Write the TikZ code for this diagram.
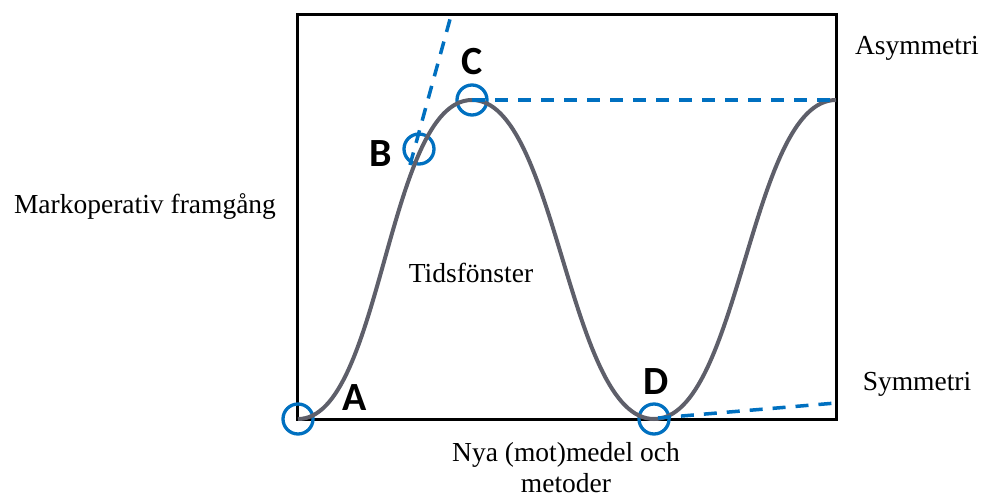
\documentclass[tikz,border=0pt]{standalone}
\usepackage{fontspec}
\setmainfont{Liberation Serif}
\newfontfamily\letterfont{Carlito}
\definecolor{ringblue}{RGB}{0,112,192}
\definecolor{wavegray}{RGB}{94,95,106}
\tikzset{
  ring/.style={circle, draw=ringblue, line width=3.3pt, minimum size=30pt, inner sep=0pt},
  bigletter/.style={font=\letterfont\bfseries\fontsize{40}{41}\selectfont, inner sep=0pt},
  caption/.style={font=\fontsize{27.5}{31}\selectfont, align=center, inner sep=0pt},
  guide/.style={ringblue, line width=3.5pt, dash pattern=on 13pt off 10pt}
}
\begin{document}
\begin{tikzpicture}[x=1pt, y=-1pt]
\useasboundingbox (0,0) rectangle (982,498);
\draw[line width=3pt] (297,14) rectangle (836,419);

\node[ring] (ptA) at (298,419) {};
\node[ring] (ptB) at (419,149) {};
\node[ring] (ptC) at (472,100) {};
\node[ring] (ptD) at (654,419) {};
\coordinate (peakR) at (836,100);
\coordinate (tanlo) at (410,165);
\coordinate (tanhi) at (452,12);
\coordinate (symR) at (836,403);

\draw[wavegray, line width=4pt] (ptA.center) .. controls (382,419) and (387,100) .. (ptC.center)
  .. controls (557,100) and (568,419) .. (ptD.center)
  .. controls (740,419) and (750,100) .. (peakR);

\draw[guide] (tanlo) -- (tanhi);
\draw[guide] (ptC.center) -- (peakR);
\draw[guide] (ptD.center) ++(4,-1) -- (symR);

\node[bigletter] (labA) at (355,398) {A};
\node[bigletter] (labB) at (381,154) {B};
\node[bigletter] (labC) at (472,62) {C};
\node[bigletter] (labD) at (656,382) {D};

\node[caption] (yaxis) at (145,207) {Markoperativ framgång};
\node[caption] (window) at (471,273) {Tidsfönster};
\node[caption] (xaxis) at (566,468) {Nya (mot)medel och\\metoder};
\node[caption] (asym) at (917,48) {Asymmetri};
\node[caption] (sym) at (917,384) {Symmetri};
\end{tikzpicture}
\end{document}
